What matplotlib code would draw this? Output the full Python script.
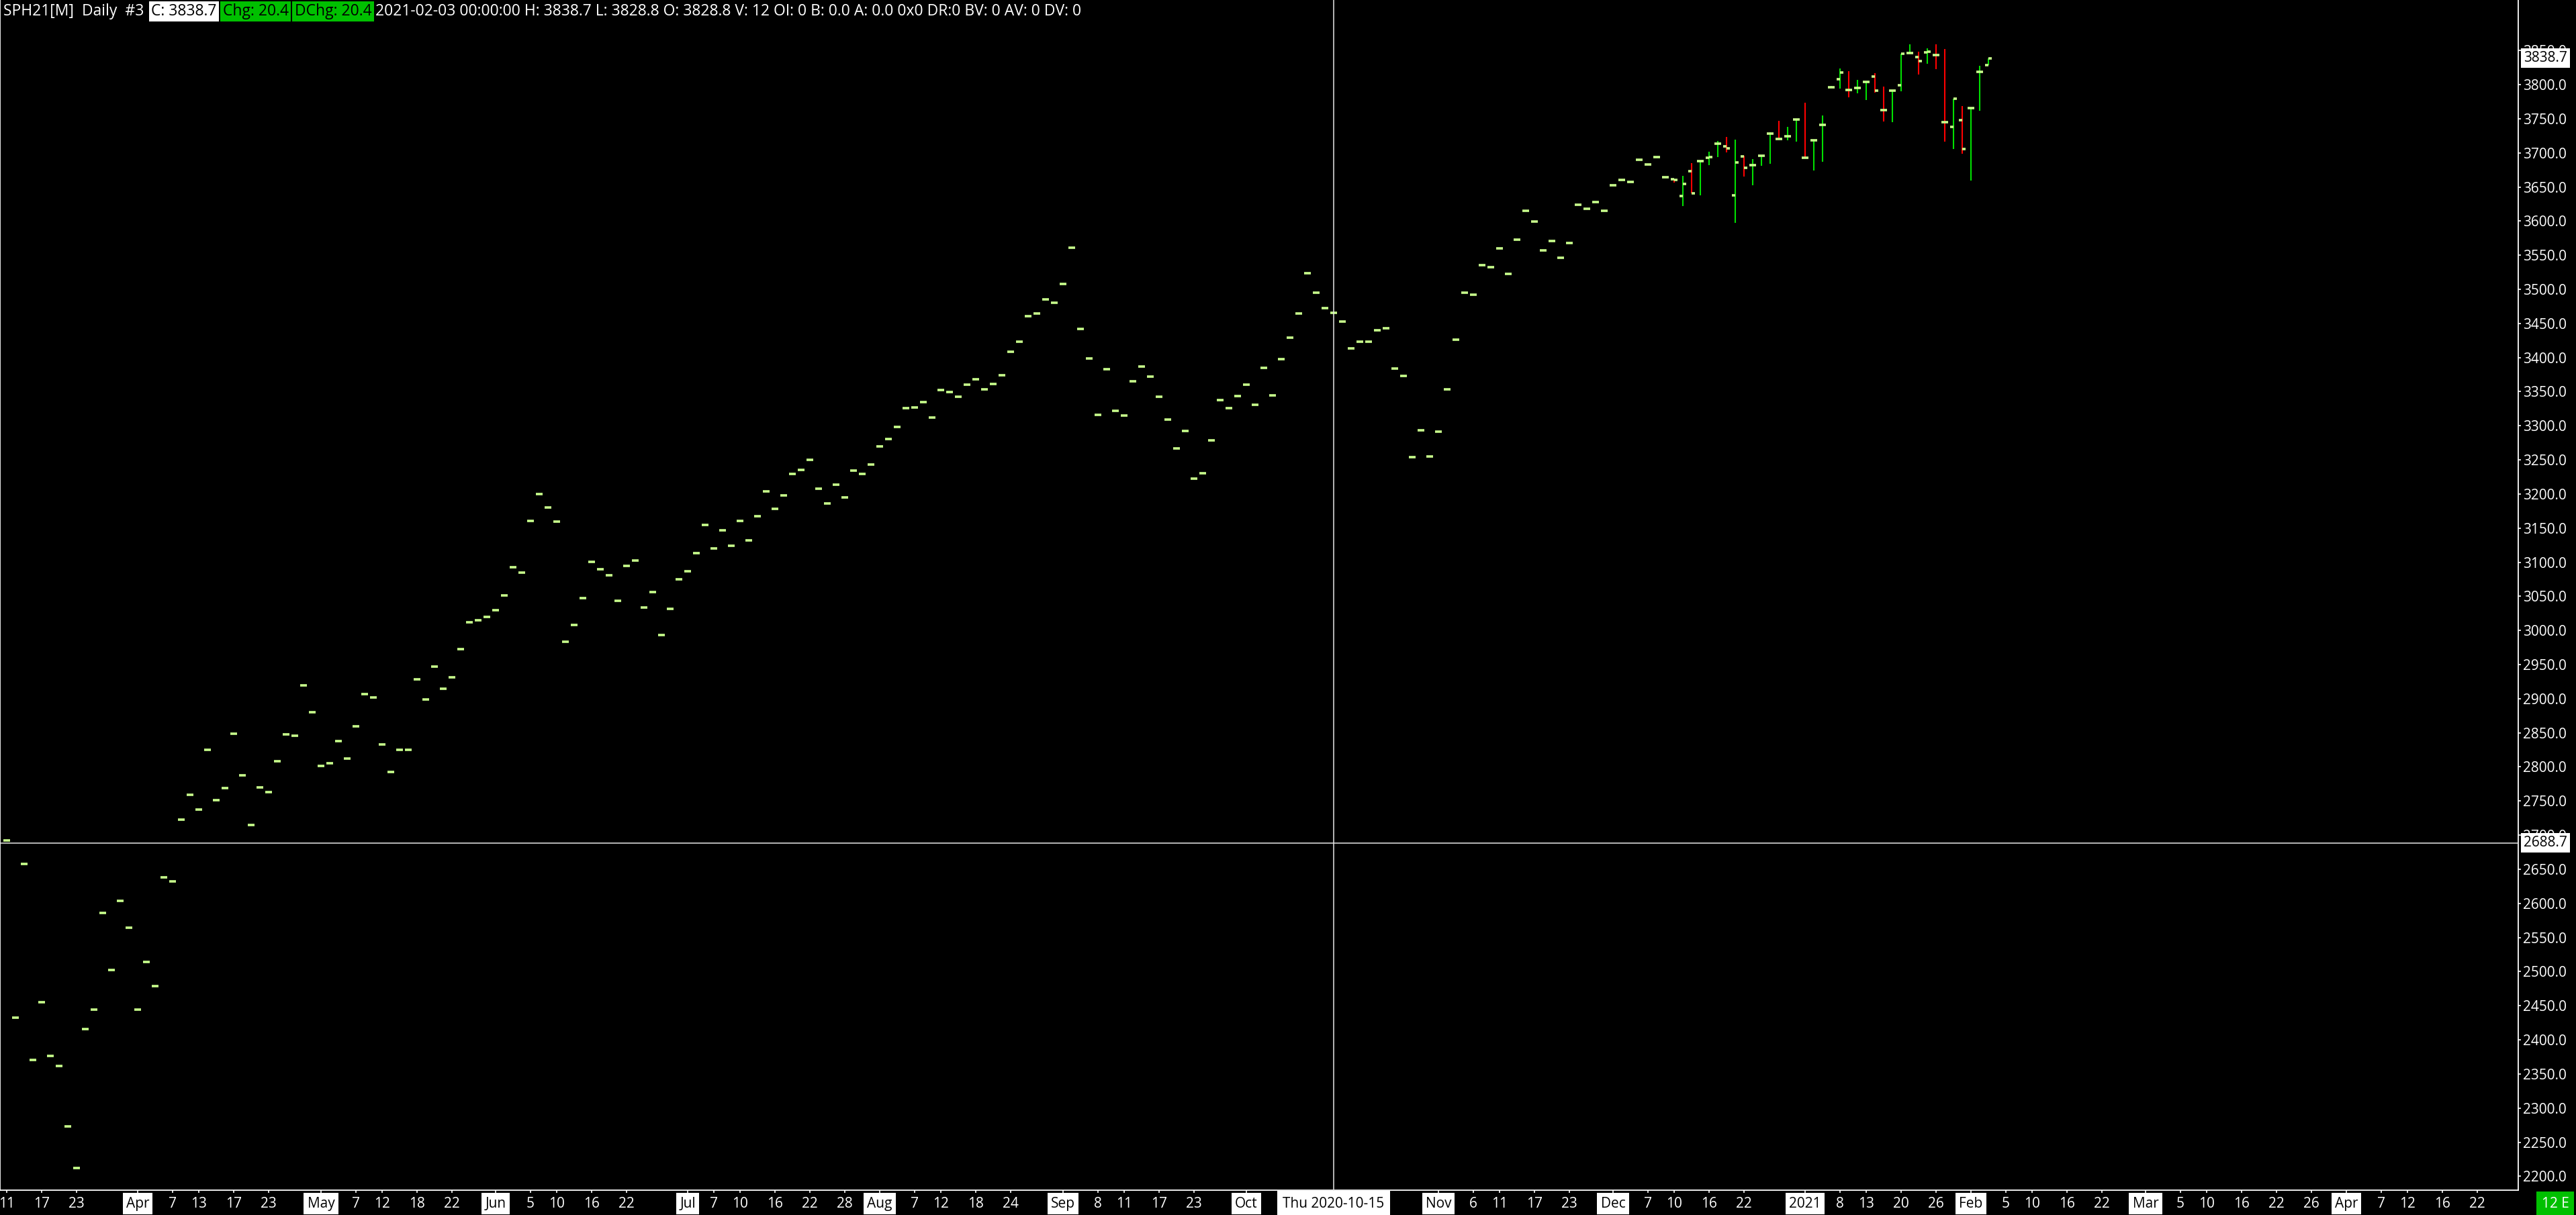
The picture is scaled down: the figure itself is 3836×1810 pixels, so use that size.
import numpy as np
import pandas as pd
import matplotlib
matplotlib.use('Agg')
import matplotlib.pyplot as plt
import matplotlib.transforms as mtransforms

# 字体: 窄一点的无衬线字体, 缺字时回落到 DejaVu
plt.rcParams['font.family'] = ['Open Sans', 'DejaVu Sans']

W, H, DPI = 3836, 1810, 100
FS = 15
HEAD_FS = 16.5

BG = 'black'
TICK_GREEN = '#c8ff8c'
UP = '#00e000'
DOWN = '#ff0000'
BOX_GREEN = '#00c000'

# ---- 数据 ----
first_day = '2020-03-11'
last_day = '2021-02-03'
axis_end = '2021-04-30'
holidays = ['2020-04-10', '2020-05-25', '2020-07-03', '2020-09-07',
            '2020-11-26', '2020-12-25', '2021-01-01', '2021-01-18']

# 收盘价 (每根K线一个), 前面大部分没有成交, O=H=L=C
closes = [
    2692, 2433, 2658, 2371, 2455, 2376, 2362, 2273, 2212, 2416,
    2444, 2586, 2502, 2604, 2564, 2444, 2514, 2479, 2638, 2632,
    2723, 2759, 2738, 2825, 2751, 2769, 2849, 2788, 2715, 2770,
    2763, 2808, 2848, 2846, 2920, 2880, 2801, 2805, 2838, 2812,
    2860, 2907, 2902, 2833, 2793, 2825, 2825, 2928, 2899, 2947,
    2915, 2931, 2973, 3012, 3015, 3020, 3030, 3051, 3093, 3085,
    3161, 3200, 3180, 3160, 2983, 3008, 3047, 3101, 3090, 3081,
    3043, 3095, 3103, 3034, 3056, 2993, 3032, 3075, 3087, 3113,
    3155, 3120, 3147, 3124, 3161, 3132, 3167, 3204, 3178, 3198,
    3229, 3235, 3250, 3208, 3186, 3214, 3195, 3234, 3229, 3243,
    3270, 3281, 3298, 3326, 3327, 3335, 3312, 3352, 3349, 3343,
    3360, 3368, 3353, 3361, 3374, 3408, 3423, 3461, 3465, 3485,
    3480, 3508, 3561, 3442, 3399, 3316, 3383, 3322, 3315, 3365,
    3387, 3372, 3343, 3309, 3267, 3292, 3223, 3230, 3279, 3338,
    3326, 3344, 3360, 3331, 3385, 3345, 3398, 3429, 3465, 3524,
    3495, 3472, 3466, 3453, 3413, 3423, 3423, 3440, 3443, 3384,
    3373, 3254, 3293, 3255, 3291, 3353, 3426, 3495, 3492, 3535,
    3532, 3560, 3523, 3573, 3615, 3599, 3557, 3571, 3546, 3568,
    3624, 3618, 3628, 3615, 3652, 3660, 3657, 3690, 3683, 3694,
    3664, 3660.5, 3654.1, 3640.3, 3687.5, 3693.4, 3713.1, 3706.2, 3685.5, 3677.7,
    3681.6, 3695.4, 3727.8, 3720.0, 3723.9, 3748.5, 3692.4, 3718.0, 3740.6, 3795.7,
    3817.3, 3791.8, 3794.7, 3803.6, 3790.8, 3762.3, 3790.8, 3844.9, 3845.9, 3834.1,
    3847.8, 3842.9, 3744.5, 3779.0, 3705.2, 3765.2, 3818.3, 3838.7,
]

# 从第 191 根开始有真实的 OHLC
late_start = 191
late_opens = [
    3661.0, 3636.3, 3672.7, 3687.5, 3692.4, 3713.1, 3709.1, 3637.3, 3694.4, 3681.6,
    3695.4, 3727.8, 3720.5, 3723.9, 3748.5, 3692.6, 3718.0, 3740.6, 3795.7, 3807.5,
    3792.0, 3794.7, 3803.6, 3811.4, 3762.5, 3790.8, 3798.7, 3845.9, 3840.0, 3846.9,
    3843.1, 3744.7, 3737.7, 3747.5, 3765.2, 3818.3, 3828.8,
]
late_highs = [
    3661.0, 3665.9, 3684.5, 3687.5, 3701.6, 3717.3, 3723.2, 3719.3, 3695.4, 3690.8,
    3695.4, 3730.1, 3746.8, 3738.0, 3749.0, 3773.4, 3718.0, 3754.7, 3798.0, 3823.6,
    3819.6, 3806.9, 3803.6, 3816.7, 3797.0, 3792.0, 3844.9, 3859.0, 3848.2, 3853.1,
    3859.0, 3852.1, 3779.0, 3768.5, 3765.2, 3827.5, 3838.7,
]
late_lows = [
    3656.7, 3622.2, 3640.3, 3638.0, 3682.3, 3694.1, 3700.6, 3597.2, 3665.2, 3652.4,
    3680.9, 3684.2, 3720.0, 3718.3, 3716.4, 3692.4, 3674.1, 3686.8, 3795.7, 3794.1,
    3781.3, 3787.2, 3777.3, 3788.5, 3745.9, 3744.9, 3790.1, 3845.9, 3815.0, 3830.5,
    3822.6, 3716.4, 3705.5, 3698.6, 3659.3, 3761.6, 3828.8,
]

crosshair_date = '2020-10-15'
crosshair_price = 2688.7
last_price = 3838.7

tick_dates = [
    '2020-03-11', '2020-03-17', '2020-03-23',
    '2020-04-01', '2020-04-07', '2020-04-13', '2020-04-17', '2020-04-23',
    '2020-05-01', '2020-05-07', '2020-05-12', '2020-05-18', '2020-05-22',
    '2020-06-01', '2020-06-05', '2020-06-10', '2020-06-16', '2020-06-22',
    '2020-07-01', '2020-07-07', '2020-07-10', '2020-07-16', '2020-07-22', '2020-07-28',
    '2020-08-03', '2020-08-07', '2020-08-12', '2020-08-18', '2020-08-24',
    '2020-09-01', '2020-09-08', '2020-09-11', '2020-09-17', '2020-09-23',
    '2020-10-01',
    '2020-11-02', '2020-11-06', '2020-11-11', '2020-11-17', '2020-11-23',
    '2020-12-01', '2020-12-07', '2020-12-10', '2020-12-16', '2020-12-22',
    '2021-01-04', '2021-01-08', '2021-01-13', '2021-01-20', '2021-01-26',
    '2021-02-01', '2021-02-05', '2021-02-10', '2021-02-16', '2021-02-22',
    '2021-03-01', '2021-03-05', '2021-03-10', '2021-03-16', '2021-03-22', '2021-03-26',
    '2021-04-01', '2021-04-07', '2021-04-12', '2021-04-16', '2021-04-22',
]

header_parts = [
    ('SPH21[M]  Daily  #3', 'white', None),
    ('C: 3838.7', 'black', 'white'),
    ('Chg: 20.4', 'black', BOX_GREEN),
    ('DChg: 20.4', 'black', BOX_GREEN),
    ('2021-02-03 00:00:00 H: 3838.7 L: 3828.8 O: 3828.8 V: 12 OI: 0 B: 0.0 A: 0.0 '
     '0x0 DR:0 BV: 0 AV: 0 DV: 0', 'white', None),
]

# ---- 交易日轴 ----
traded = pd.bdate_range(first_day, last_day)
traded = traded[~traded.isin(pd.to_datetime(holidays))]
future = pd.bdate_range(pd.Timestamp(last_day) + pd.Timedelta(days=1), axis_end)
all_days = traded.append(future)
day_pos = {d: i for i, d in enumerate(all_days)}

n = len(closes)
o = np.array(list(closes[:late_start]) + late_opens, dtype=float)
h = np.array(list(closes[:late_start]) + late_highs, dtype=float)
l = np.array(list(closes[:late_start]) + late_lows, dtype=float)
c = np.array(closes, dtype=float)
x = np.arange(n)

fig = plt.figure(figsize=(W / DPI, H / DPI), dpi=DPI, facecolor=BG)
ax = fig.add_axes([0, 37 / H, 3750 / W, 1773 / H])
ax.set_facecolor(BG)

# K线: 高低竖线 + 左开盘 / 右收盘
up = c >= o
ax.vlines(x[up], l[up], h[up], color=UP, lw=1.5)
ax.vlines(x[~up], l[~up], h[~up], color=DOWN, lw=1.5)
ax.hlines(o, x - 0.42, x, color=TICK_GREEN, lw=2.6, capstyle='butt', zorder=3)
ax.hlines(c, x, x + 0.42, color=TICK_GREEN, lw=2.6, capstyle='butt', zorder=3)

ax.set_xlim(-10 / 13, 3740 / 13)
ax.set_ylim(2179.7, 3924)

ax.spines['top'].set_visible(False)
for side in ['bottom', 'right', 'left']:
    ax.spines[side].set_color('white')
    ax.spines[side].set_linewidth(1.3)

# y 轴在右边
yt = np.arange(2200, 3851, 50)
ax.set_yticks(yt)
ax.set_yticklabels([f'{v:.1f}' for v in yt])
ax.tick_params(axis='y', left=False, right=True, labelleft=False, labelright=True,
               colors='white', length=3, width=1.2, pad=2, labelsize=FS)

# x 轴刻度 + 自己画标签
tick_ts = pd.to_datetime(tick_dates)
tick_x = [day_pos[d] for d in tick_ts]
ax.set_xticks(tick_x)
ax.tick_params(axis='x', colors='white', length=3, width=1.2, labelbottom=False)

xlab_tr = mtransforms.blended_transform_factory(ax.transData, fig.transFigure)
ylab = 17 / H
for d, px in zip(tick_ts, tick_x):
    # 每月第一个交易日显示月份 (一月显示年份), 白底黑字
    month_start = px > 0 and all_days[px - 1].month != d.month
    if month_start:
        lab = str(d.year) if d.month == 1 else d.strftime('%b')
        ax.text(px, ylab, lab, transform=xlab_tr, ha='center', va='center',
                fontsize=FS, color='black', clip_on=False, zorder=6,
                bbox=dict(boxstyle='square,pad=0.25', fc='white', ec='none'))
    else:
        ax.text(px, ylab, str(d.day), transform=xlab_tr, ha='center', va='center',
                fontsize=FS, color='white', clip_on=False, zorder=6)

# 十字光标
cx = day_pos[pd.Timestamp(crosshair_date)]
ax.axvline(cx, color='#e8e8e8', lw=1.1, zorder=4)
ax.axhline(crosshair_price, color='#e8e8e8', lw=1.1, zorder=4)
cross_label = pd.Timestamp(crosshair_date).strftime('%a %Y-%m-%d')
ax.text(cx, ylab, cross_label, transform=xlab_tr, ha='center', va='center',
        fontsize=FS, color='black', clip_on=False, zorder=7,
        bbox=dict(boxstyle='square,pad=0.4', fc='white', ec='none'))

# 右侧价格标签
ylab_tr = mtransforms.blended_transform_factory(ax.transAxes, ax.transData)
for price in [last_price, crosshair_price]:
    ax.text(1.0 + 8 / 3750, price, f'{price:.1f}', transform=ylab_tr, ha='left',
            va='center', fontsize=FS, color='black', clip_on=False, zorder=7,
            bbox=dict(boxstyle='square,pad=0.2', fc='white', ec='none'))

fig.text(3805 / W, ylab, '12 E', ha='center', va='center', fontsize=FS, color='white',
         bbox=dict(boxstyle='square,pad=0.35', fc=BOX_GREEN, ec='none'))

# 顶部信息栏
renderer = fig.canvas.get_renderer()
xpos = 5
for txt, fg, bgc in header_parts:
    kw = {}
    if bgc:
        kw['bbox'] = dict(boxstyle='square,pad=0.15', fc=bgc, ec='none')
        xpos += 3
    t = fig.text(xpos / W, 1 - 17 / H, txt, color=fg, fontsize=HEAD_FS, ha='left',
                 va='center', **kw)
    ext = t.get_window_extent(renderer)
    xpos = ext.x1 + (6 if bgc else 8)

fig.savefig('out.png', dpi=DPI, facecolor=BG)
